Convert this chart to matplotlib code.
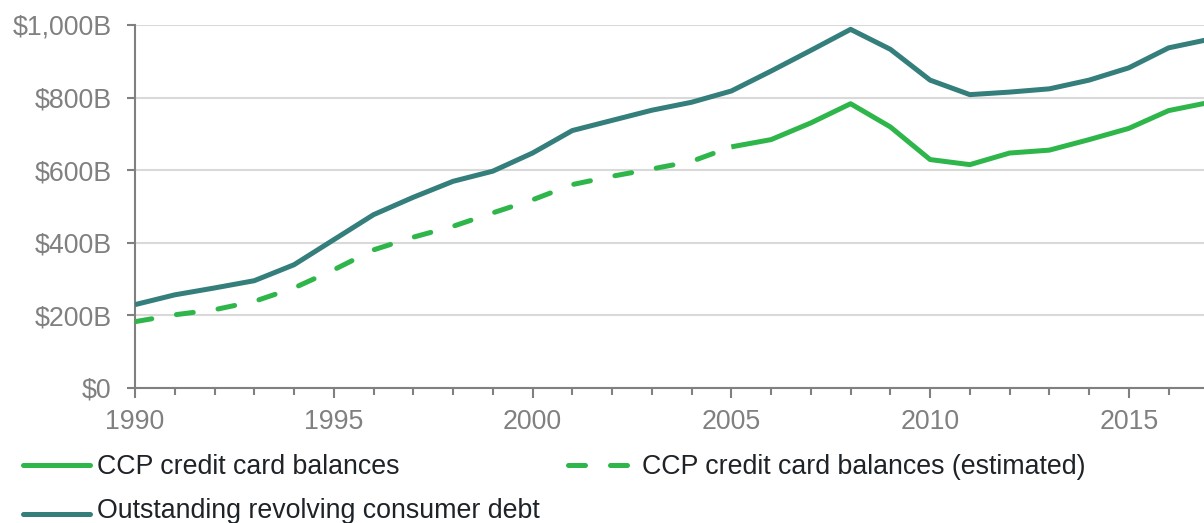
import matplotlib
matplotlib.use("Agg")
import matplotlib.pyplot as plt
from matplotlib.lines import Line2D
from matplotlib.ticker import FuncFormatter, MultipleLocator

plt.rcParams['font.family'] = ['Liberation Sans', 'DejaVu Sans']

# data ($ billions)
years = list(range(1990, 2018))
revolving = [229, 256, 275, 295, 339, 408, 477, 525, 569, 597, 647, 709, 737, 765,
             787, 818, 873, 930, 988, 933, 848, 808, 815, 824, 848, 882, 937, 960]
est_years = list(range(1990, 2006))
ccp_est = [182, 201, 215, 238, 275, 325, 380, 415, 445, 482, 518, 560, 583, 603,
           624, 664]
ccp_years = list(range(2005, 2018))
ccp = [664, 684, 730, 783, 719, 629, 615, 647, 655, 684, 715, 764, 786]

teal = "#347e7b"
green = "#2fb64b"
grey = "#808080"
fs = 19.3

W, H = 1204, 523
fig = plt.figure(figsize=(W / 100, H / 100), dpi=100)
ax = fig.add_axes([135 / W, 1 - 387.7 / H, 1 - 135 / W + 0.001, (387.7 - 25) / H])

lw = 3.6
ax.plot(years, revolving, color=teal, lw=lw, solid_capstyle='butt', zorder=3)
ax.plot(ccp_years, ccp, color=green, lw=lw, solid_capstyle='butt', zorder=3)
ax.plot(est_years, ccp_est, color=green, lw=lw, dashes=(3.4, 5.0),
        dash_capstyle='round', zorder=3)

ax.set_xlim(1990, 2016.92)
ax.set_ylim(0, 1000)
ax.yaxis.set_major_locator(MultipleLocator(200))
ax.xaxis.set_major_locator(MultipleLocator(5))
ax.xaxis.set_minor_locator(MultipleLocator(1))
ax.yaxis.set_major_formatter(FuncFormatter(lambda v, p: "$0" if v == 0 else f"${v:,.0f}B"))

ax.grid(axis='y', color='#d9d9d9', lw=1.5, zorder=0)
ax.set_axisbelow(True)
for s in ['top', 'right']:
    ax.spines[s].set_visible(False)
for s in ['left', 'bottom']:
    ax.spines[s].set_color(grey)
    ax.spines[s].set_linewidth(1.5)
ax.tick_params(axis='both', which='major', color=grey, width=1.5, length=5.5,
               labelcolor=grey, labelsize=fs)
ax.tick_params(axis='x', which='major', pad=8, length=7)
ax.tick_params(axis='x', which='minor', color=grey, width=1.5, length=5)
ax.tick_params(axis='y', pad=11.5)

# legend drawn by hand in pixel positions
def entry(x0, y_line, y_text, color, text, dashed=False):
    kw = dict(dashes=(3.4, 5.0), dash_capstyle='round') if dashed else dict(solid_capstyle='round')
    fig.add_artist(Line2D([(x0 + 2.5) / W, (x0 + 70) / W], [1 - y_line / H] * 2, color=color,
                          lw=lw, transform=fig.transFigure, **kw))
    fig.text((x0 + 77) / W, 1 - y_text / H, text, fontsize=fs, color='#1e2328',
             va='center_baseline', ha='left')

entry(20, 465, 464, green, "CCP credit card balances")
entry(565, 465, 464, green, "CCP credit card balances (estimated)", dashed=True)
entry(20, 514, 507.5, teal, "Outstanding revolving consumer debt")

fig.savefig("out.png", dpi=100)
